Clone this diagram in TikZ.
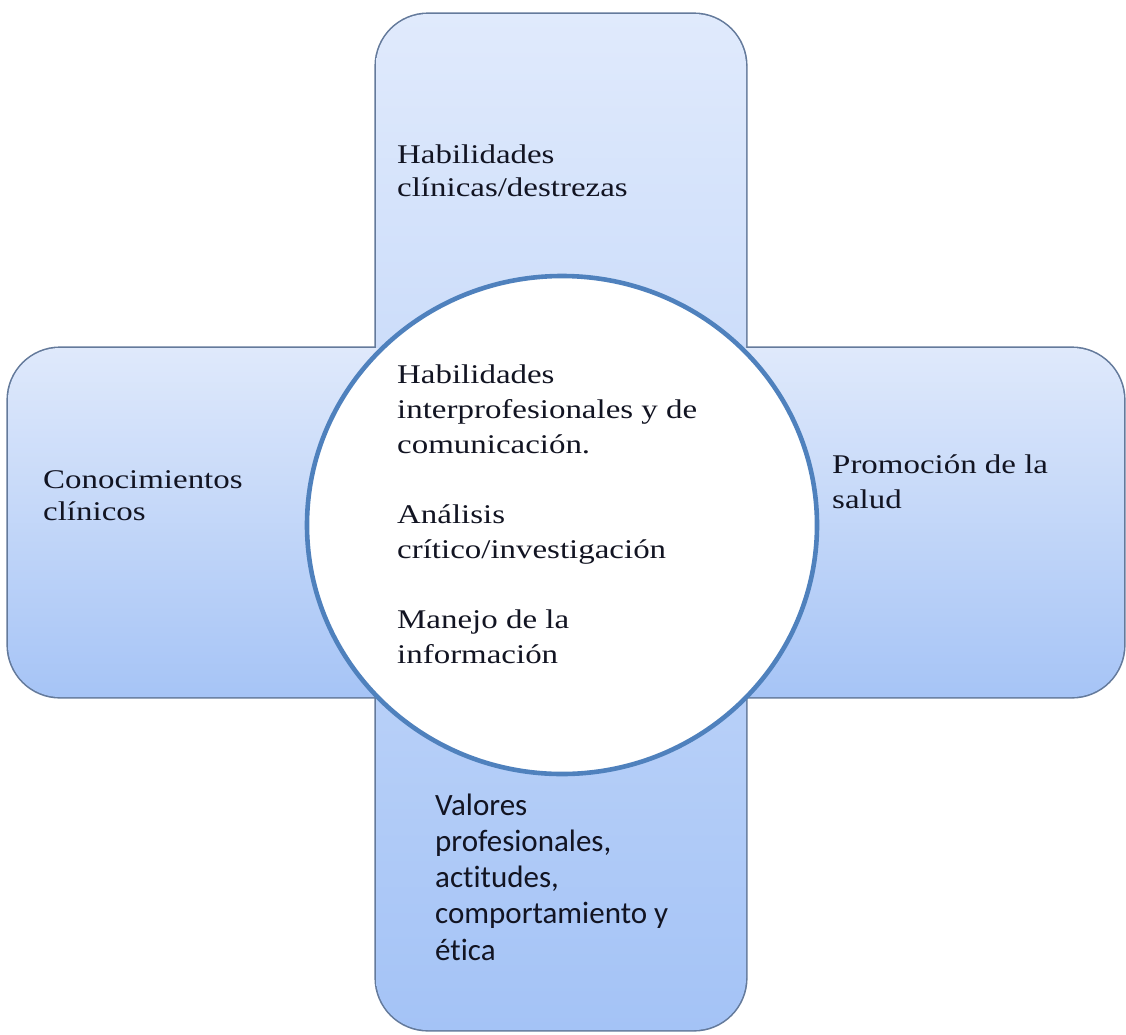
\documentclass[tikz,border=0pt]{standalone}
\usepackage{fontspec}
\setmainfont{Liberation Serif}[FakeStretch=1.22]
\newfontfamily\calibrifont{Carlito}[Ligatures=NoCommon]
\definecolor{vtop}{RGB}{224,234,252}
\definecolor{vbot}{RGB}{164,195,246}
\definecolor{htop}{RGB}{223,233,251}
\definecolor{hbot}{RGB}{166,196,246}
\definecolor{edge}{RGB}{100,122,155}
\definecolor{ring}{RGB}{79,129,189}
\definecolor{ink}{RGB}{18,20,34}
\tikzset{
  crossline/.style={draw=edge, line width=3.2pt, rounded corners=52pt},
  vfill/.style={top color=vtop, bottom color=vbot, rounded corners=52pt},
  hfill/.style={top color=htop, bottom color=hbot, rounded corners=52pt},
  ringstyle/.style={draw=ring, fill=white, line width=4.6pt},
  lbl/.style={anchor=base west, inner sep=0pt, text=ink},
}
\begin{document}
\begin{tikzpicture}[x=1pt,y=-1pt]
\useasboundingbox (0,0) rectangle (1126,1034);
% outline of the cross (inner lines are covered by the fills)
\draw[crossline] (376,14) rectangle (746,1030);
\draw[crossline] (8,348) rectangle (1124,697);
\shade[vfill] (376,14) rectangle (746,1030);
\shade[hfill] (8,348) rectangle (1124,697);
% central circle
\draw[ringstyle] (562,525) ellipse [x radius=255pt, y radius=249pt];
% texts
\node[lbl] (top) at (397,163) {\fontsize{27}{33}\selectfont\begin{tabular}[t]{@{}l@{}}Habilidades\\clínicas/destrezas\end{tabular}};
\node[lbl] (left) at (43,488) {\fontsize{27}{32}\selectfont\begin{tabular}[t]{@{}l@{}}Conocimientos\\clínicos\end{tabular}};
\node[lbl] (right) at (832,473) {\fontsize{27}{35}\selectfont\begin{tabular}[t]{@{}l@{}}Promoción de la\\salud\end{tabular}};
\node[lbl] (center) at (397,383) {\fontsize{27}{35}\selectfont\begin{tabular}[t]{@{}l@{}}Habilidades\\interprofesionales y de\\comunicación.\\ \\Análisis\\crítico/investigación\\ \\Manejo de la\\información\end{tabular}};
\node[lbl] (bottom) at (435,815) {\calibrifont\fontsize{31}{36.3}\selectfont\begin{tabular}[t]{@{}l@{}}Valores\\profesionales,\\actitudes,\\comportamiento y\\ética\end{tabular}};
\end{tikzpicture}
\end{document}
